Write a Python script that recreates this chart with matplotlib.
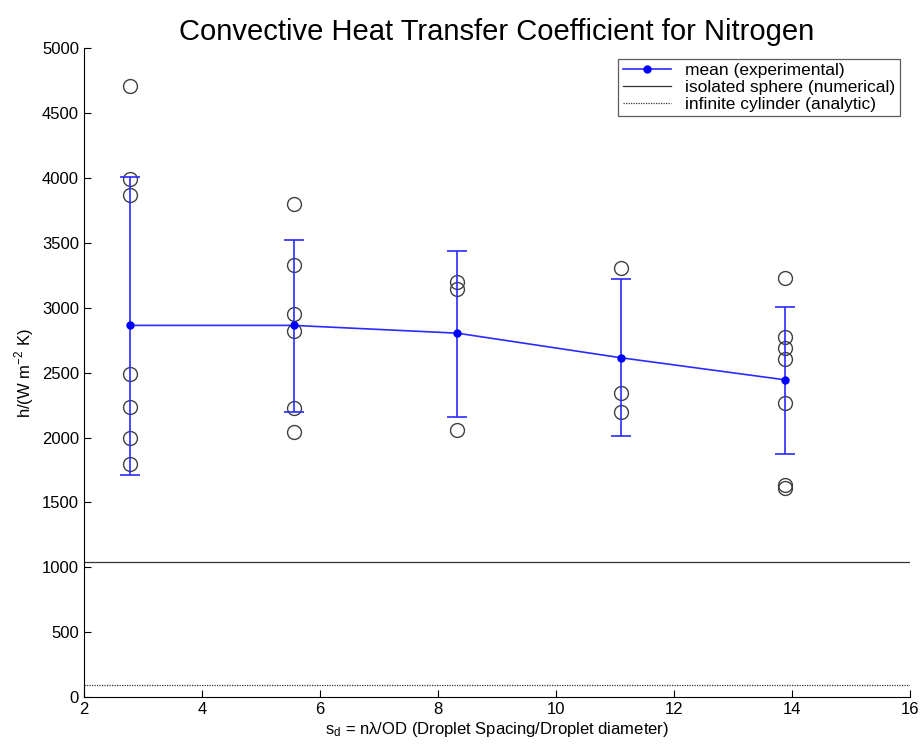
import matplotlib
matplotlib.use("Agg")
import matplotlib.pyplot as plt
import numpy as np

plt.rcParams['font.family'] = ['Liberation Sans', 'DejaVu Sans']
plt.rcParams['mathtext.fontset'] = 'custom'
plt.rcParams['mathtext.rm'] = 'Liberation Sans'

# droplet spacing values
spacing = [2.78, 5.56, 8.33, 11.11, 13.89]

# single measurements per spacing
misure = [
    [4710, 3990, 3870, 2490, 2235, 1995, 1795],
    [3800, 3330, 2950, 2820, 2226, 2045],
    [3200, 3145, 2060],
    [3310, 2342, 2200],
    [3230, 2778, 2692, 2608, 2268, 1635, 1612],
]

media = [2865, 2865, 2805, 2615, 2445]
err_sup = [4010, 3525, 3440, 3222, 3008]
err_inf = [1712, 2198, 2162, 2015, 1876]

sfera = 1040
cilindro = 90

fig = plt.figure(figsize=(9.21, 7.55), dpi=100)
ax = fig.add_axes([0.091, 0.0768, 0.897, 0.859])

for xs, vals in zip(spacing, misure):
    ax.plot([xs] * len(vals), vals, 'o', mfc='none', mec='#404040', ms=10, mew=1.0, zorder=1)

media = np.array(media)
yerr = [media - np.array(err_inf), np.array(err_sup) - media]
ax.errorbar(spacing, media, yerr=yerr, fmt='none', ecolor='#2b2bff',
            capsize=7, elinewidth=1.2, capthick=1.2, zorder=2)
ax.plot(spacing, media, color='#2b2bff', marker='o', mfc='#0000ff', mec='#0000ff',
        ms=5, lw=1.2, label='mean (experimental)', zorder=3)

ax.axhline(sfera, color='#333333', lw=0.9, label='isolated sphere (numerical)')
ax.axhline(cilindro, color='#333333', lw=0.9, ls=(0, (1, 1)), label='infinite cylinder (analytic)')

ax.set_xlim(2, 16)
ax.set_ylim(0, 5000)
ax.set_xticks(np.arange(2, 17, 2))
ax.set_yticks(np.arange(0, 5001, 500))
ax.tick_params(direction='in', labelsize=12, length=5)
ax.spines['top'].set_visible(False)
ax.spines['right'].set_visible(False)

ax.set_title('Convective Heat Transfer Coefficient for Nitrogen', fontsize=21, pad=6)
ax.set_xlabel(r'$\mathregular{s_d}$ = nλ/OD (Droplet Spacing/Droplet diameter)', fontsize=12, labelpad=2)
ax.set_ylabel(r'h/(W m$^{\mathregular{-2}}$ K)', fontsize=12)

leg = ax.legend(loc='upper right', fontsize=12.5, fancybox=False, edgecolor='#333333',
                borderpad=0.25, labelspacing=0.1, handlelength=2.8, borderaxespad=0.6)
leg.get_frame().set_linewidth(0.9)

fig.savefig('out.png', dpi=100)
